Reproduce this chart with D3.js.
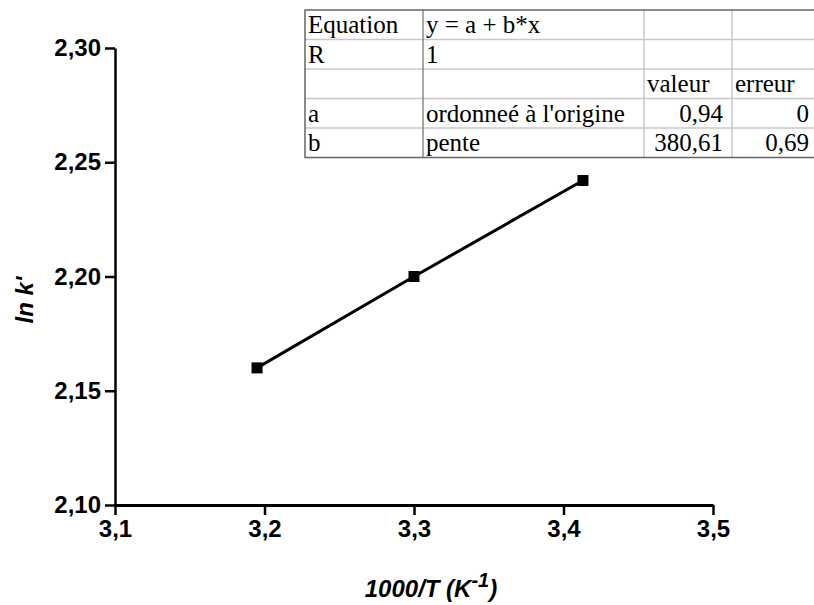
<!DOCTYPE html>
<html lang="fr">
<head>
<meta charset="UTF-8">
<script src="https://d3js.org/d3.v7.min.js"></script>
<style>
    body { margin: 0; background: #fff; }
    svg { display: block; }
    .tick text { font-family: "Liberation Sans", Arial, sans-serif; font-weight: bold; font-size: 24px; fill: #000; }
    .cell { font-family: "Liberation Serif", "Times New Roman", serif; font-size: 25px; fill: #000; }
    .title { font-family: "Liberation Sans", Arial, sans-serif; font-weight: bold; font-style: italic; font-size: 24px; }
</style>
</head>
<body>
<div id="chart"></div>
<script>
// data
var invT = [3.195, 3.300, 3.413];
var lnK = [2.160, 2.200, 2.242];
var xTicks = [3.1, 3.2, 3.3, 3.4, 3.5];
var yTicks = [2.10, 2.15, 2.20, 2.25, 2.30];

// fit results table
var tableRows = [
    ["Equation", "y = a + b*x", "", ""],
    ["R", "1", "", ""],
    ["", "", "valeur", "erreur"],
    ["a", "ordonneé à l'origine", "0,94", "0"],
    ["b", "pente", "380,61", "0,69"]
];

var W = 814, H = 605;
var margin = { top: 48, right: 101, bottom: 100, left: 115 };
var width = W - margin.left - margin.right,
    height = H - margin.top - margin.bottom;

var svg = d3.select("#chart").append("svg")
    .attr("width", W).attr("height", H);

var g = svg.append("g")
    .attr("transform", `translate(${margin.left},${margin.top})`);

var x = d3.scaleLinear().domain([3.1, 3.5]).range([0, width]);
var y = d3.scaleLinear().domain([2.10, 2.30]).range([height, 0]);

var comma = function(d, n) { return d.toFixed(n).replace(".", ","); };

// X axis
var xAxis = g.append("g")
    .attr("transform", `translate(0,${height})`)
    .call(d3.axisBottom(x).tickValues(xTicks).tickSize(10).tickSizeOuter(0)
        .tickFormat(function(d) { return comma(d, 1); }));
xAxis.select(".domain").attr("stroke-width", 3);
xAxis.selectAll(".tick line").attr("stroke-width", 2.5);
xAxis.selectAll(".tick text").attr("dy", "0.9em").attr("y", 10);

// Y axis
var yAxis = g.append("g")
    .call(d3.axisLeft(y).tickValues(yTicks).tickSize(10).tickSizeOuter(0)
        .tickFormat(function(d) { return comma(d, 2); }));
yAxis.select(".domain").attr("stroke-width", 2.5);
yAxis.selectAll(".tick line").attr("stroke-width", 2.5);
yAxis.selectAll(".tick text").attr("x", -14);

// Axis titles
svg.append("text")
    .attr("class", "title")
    .attr("x", 431).attr("y", 597)
    .attr("text-anchor", "middle")
    .html('1000/T (K<tspan dy="-10" font-size="20px">-1</tspan><tspan dy="10">)</tspan>');

svg.append("text")
    .attr("class", "title")
    .attr("transform", "translate(33,300) rotate(-90)")
    .attr("text-anchor", "middle")
    .text("ln k'");

// Line and markers
var pts = invT.map(function(v, i) { return [v, lnK[i]]; });

g.append("path")
    .datum(pts)
    .attr("fill", "none")
    .attr("stroke", "#000")
    .attr("stroke-width", 3)
    .attr("d", d3.line().x(function(d) { return x(d[0]); }).y(function(d) { return y(d[1]); }));

g.selectAll(".pt")
    .data(pts)
    .enter().append("rect")
    .attr("x", function(d) { return x(d[0]) - 5.5; })
    .attr("y", function(d) { return y(d[1]) - 5.5; })
    .attr("width", 11).attr("height", 11)
    .attr("fill", "#000");

// Table
var colX = [305, 423, 644, 732, 818];
var rowY = [10, 39.5, 69, 98.5, 128, 157.5];
var tbl = svg.append("g");

tbl.append("rect")
    .attr("x", colX[0]).attr("y", rowY[0])
    .attr("width", colX[4] - colX[0]).attr("height", rowY[5] - rowY[0])
    .attr("fill", "#fff");

// inner grid lines
rowY.slice(1, 5).forEach(function(r) {
    tbl.append("line").attr("x1", colX[0]).attr("x2", colX[4]).attr("y1", r).attr("y2", r)
        .attr("stroke", "#c8c8c8").attr("stroke-width", 1.5);
});
colX.slice(1, 4).forEach(function(c, i) {
    tbl.append("line").attr("x1", c).attr("x2", c).attr("y1", rowY[0]).attr("y2", rowY[5])
        .attr("stroke", i === 0 ? "#8a8a8a" : "#c8c8c8").attr("stroke-width", 1.5);
});

tbl.append("rect")
    .attr("x", colX[0]).attr("y", rowY[0])
    .attr("width", colX[4] - colX[0]).attr("height", rowY[5] - rowY[0])
    .attr("fill", "none").attr("stroke", "#666").attr("stroke-width", 1.5);

tableRows.forEach(function(row, r) {
    row.forEach(function(txt, c) {
        if (!txt) return;
        var numeric = /^[0-9,]+$/.test(txt) && r >= 3 && c >= 2;
        tbl.append("text")
            .attr("class", "cell")
            .attr("x", numeric ? colX[c + 1] - 9 : colX[c] + 3)
            .attr("y", rowY[r] + 23)
            .attr("text-anchor", numeric ? "end" : "start")
            .text(txt);
    });
});
</script>
</body>
</html>
